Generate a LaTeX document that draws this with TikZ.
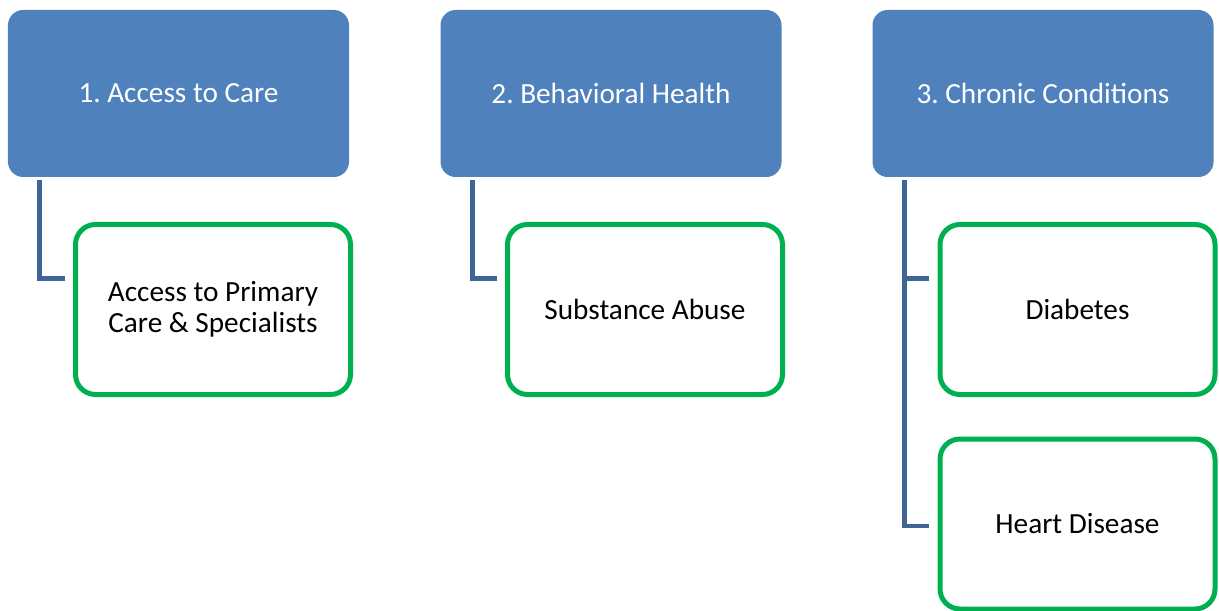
\documentclass[tikz,border=0pt]{standalone}
\usepackage{fontspec}
\setmainfont{Carlito}
\usepackage{xcolor}
\usetikzlibrary{shapes, positioning}
\definecolor{headblue}{HTML}{4F81BD}
\definecolor{linkblue}{HTML}{3F6597}
\definecolor{leafgreen}{HTML}{00B050}
\frenchspacing

\begin{document}
\begin{tikzpicture}[
                head/.style={rectangle, rounded corners=0.38cm, fill=headblue, text=white, minimum width=8.525cm, minimum height=4.175cm, align=center, font=\fontsize{20.8}{22}\selectfont},
                leaf/.style={draw=leafgreen, line width=0.125cm, rectangle, rounded corners=0.5cm, fill=white, minimum width=6.875cm, minimum height=4.25cm, align=center, font=\fontsize{20.8}{22}\selectfont},
                link/.style={draw=linkblue, line width=0.12cm}]
                \useasboundingbox (0,0) rectangle (30.475,-15.275);
                \node[head] (care) at (4.4625,-2.3375) {1. Access to Care};
                \node[head] (behav) at (15.275,-2.3375) {2. Behavioral Health};
                \node[head] (chronic) at (26.075,-2.3375) {3. Chronic Conditions};

                \node[leaf] (primary) at (5.325,-7.7375) {Access to Primary\\Care \& Specialists};
                \node[leaf] (subst) at (16.125,-7.7375) {Substance Abuse};
                \node[leaf] (diab) at (26.9375,-7.7375) {Diabetes};
                \node[leaf, minimum height=4.25cm] (heart) at (26.9375,-13.1) {Heart Disease};

                \draw[link] ([xshift=0.8cm, yshift=-0.08cm]care.south west) |- ([xshift=-0.21cm, yshift=0.78cm]primary.west);
                \draw[link] ([xshift=0.8cm, yshift=-0.08cm]behav.south west) |- ([xshift=-0.21cm, yshift=0.78cm]subst.west);
                \draw[link] ([xshift=0.8cm, yshift=-0.08cm]chronic.south west) |- ([xshift=-0.21cm, yshift=0.78cm]diab.west);
                \draw[link] ([xshift=0.8cm, yshift=-0.08cm]chronic.south west) |- ([xshift=-0.21cm, yshift=-0.05cm]heart.west);
            \end{tikzpicture}
\end{document}
